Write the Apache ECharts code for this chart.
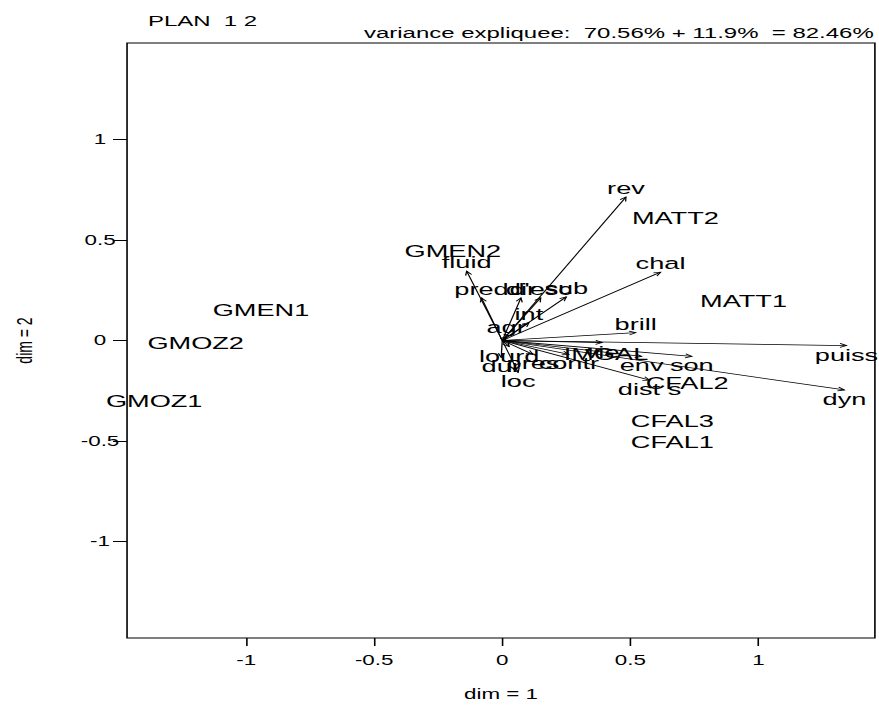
<!DOCTYPE html>
<html>
<head>
<meta charset="utf-8">
<script src="https://cdn.jsdelivr.net/npm/echarts@6/dist/echarts.min.js"></script>
<style>
  html, body { margin: 0; padding: 0; background: #fff; overflow: hidden; }
  /* the reference is stretched sideways, so draw narrow and stretch */
  #main { width: 550px; height: 706px; transform: scaleX(1.598); transform-origin: 0 0; }
</style>
</head>
<body>
<div id="main"></div>
<script>
// variables (arrows)
var varNames = ['rev', 'chal', 'brill', 'puiss', 'dyn', 'son', 'env', 'contr', 'pres', 'dur', 'lourd', 'vie', 'dist s', 'loc', 'agr', 'int', 'fluid', 'pred', 'dir', "d'esc", 'sub'];
var varX = [0.483, 0.618, 0.521, 1.344, 1.336, 0.74, 0.544, 0.26, 0.12, -0.004, 0.027, 0.39, 0.575, 0.062, 0.015, 0.104, -0.139, -0.081, 0.073, 0.15, 0.25];
var varY = [0.714, 0.340, 0.039, -0.025, -0.246, -0.079, -0.079, -0.069, -0.069, -0.084, -0.03, -0.01, -0.197, -0.158, 0.02, 0.089, 0.345, 0.212, 0.212, 0.212, 0.217];

// individuals (labels only)
var indNames = ['GMEN2', 'GMEN1', 'GMOZ2', 'GMOZ1', 'MATT2', 'MATT1', 'CFAL2', 'CFAL3', 'CFAL1', 'IMGAL'];
var indX = [-0.193, -0.942, -1.197, -1.359, 0.676, 0.942, 0.722, 0.664, 0.664, 0.405];
var indY = [0.443, 0.153, -0.01, -0.30, 0.61, 0.197, -0.21, -0.40, -0.507, -0.069];

var tickValues = [-1, -0.5, 0, 0.5, 1];

var FONT = "'Liberation Sans', Arial, Helvetica, sans-serif";

var varData = varNames.map(function (n, i) { return [varX[i], varY[i], n]; });
var indData = indNames.map(function (n, i) { return [indX[i], indY[i], n]; });

var chart = echarts.init(document.getElementById('main'), null, { renderer: 'svg' });

chart.setOption({
  animation: false,
  graphic: [
    { type: 'text', left: 92.6, top: 13, style: { text: 'PLAN  1 2', fontSize: 15, fontFamily: FONT, fill: '#000' } },
    { type: 'text', right: 3.1, top: 25, style: { text: 'variance expliquee:  70.56% + 11.9%  = 82.46%', fontSize: 15, fontFamily: FONT, fill: '#000' } }
  ],
  grid: {
    left: 74.5, right: 2.5, top: 43, bottom: 62,
    show: true, borderColor: '#000', borderWidth: 1
  },
  xAxis: {
    type: 'value', min: -1.465, max: 1.455,
    name: 'dim = 1', nameLocation: 'middle', nameGap: 49,
    nameTextStyle: { fontSize: 14, fontFamily: FONT, color: '#000' },
    axisLine: { show: false, onZero: false },
    splitLine: { show: false },
    axisTick: { show: true, length: 8, customValues: tickValues, lineStyle: { color: '#000' } },
    axisLabel: { customValues: tickValues, fontSize: 14, fontFamily: FONT, color: '#000', margin: 15 }
  },
  yAxis: {
    type: 'value', min: -1.48, max: 1.48,
    name: 'dim = 2', nameLocation: 'middle', nameGap: 57.5,
    nameTextStyle: { fontSize: 14, fontFamily: FONT, color: '#000' },
    axisLine: { show: false, onZero: false },
    splitLine: { show: false },
    axisTick: { show: true, length: 8.8, customValues: tickValues, lineStyle: { color: '#000' } },
    axisLabel: { customValues: tickValues, fontSize: 14, fontFamily: FONT, color: '#000', margin: 16.9, align: 'center' }
  },
  series: [
    {
      type: 'custom',
      name: 'variables',
      clip: false,
      data: varData,
      renderItem: function (params, api) {
        var p0 = api.coord([0, 0]);
        var p1 = api.coord([api.value(0), api.value(1)]);
        var ang = Math.atan2(p1[1] - p0[1], p1[0] - p0[0]);
        var h = 4.5, a = 0.45;
        var q1 = [p1[0] - h * Math.cos(ang - a), p1[1] - h * Math.sin(ang - a)];
        var q2 = [p1[0] - h * Math.cos(ang + a), p1[1] - h * Math.sin(ang + a)];
        var up = api.value(1) >= 0;
        return {
          type: 'group',
          children: [
            { type: 'line', shape: { x1: p0[0], y1: p0[1], x2: p1[0], y2: p1[1] }, style: { stroke: '#000', lineWidth: 0.8 } },
            { type: 'polyline', shape: { points: [q1, p1, q2] }, style: { stroke: '#000', lineWidth: 0.8, fill: null } },
            { type: 'text', x: p1[0], y: p1[1] + (up ? -9 : 9), style: { text: varNames[params.dataIndex], fontSize: 17, fontFamily: FONT, fill: '#000', align: 'center', verticalAlign: 'middle' } }
          ]
        };
      }
    },
    {
      type: 'custom',
      name: 'individus',
      clip: false,
      data: indData,
      renderItem: function (params, api) {
        var p = api.coord([api.value(0), api.value(1)]);
        return {
          type: 'text', x: p[0], y: p[1],
          style: { text: indNames[params.dataIndex], fontSize: 17, fontFamily: FONT, fill: '#000', align: 'center', verticalAlign: 'middle' }
        };
      }
    }
  ]
});
</script>
</body>
</html>
